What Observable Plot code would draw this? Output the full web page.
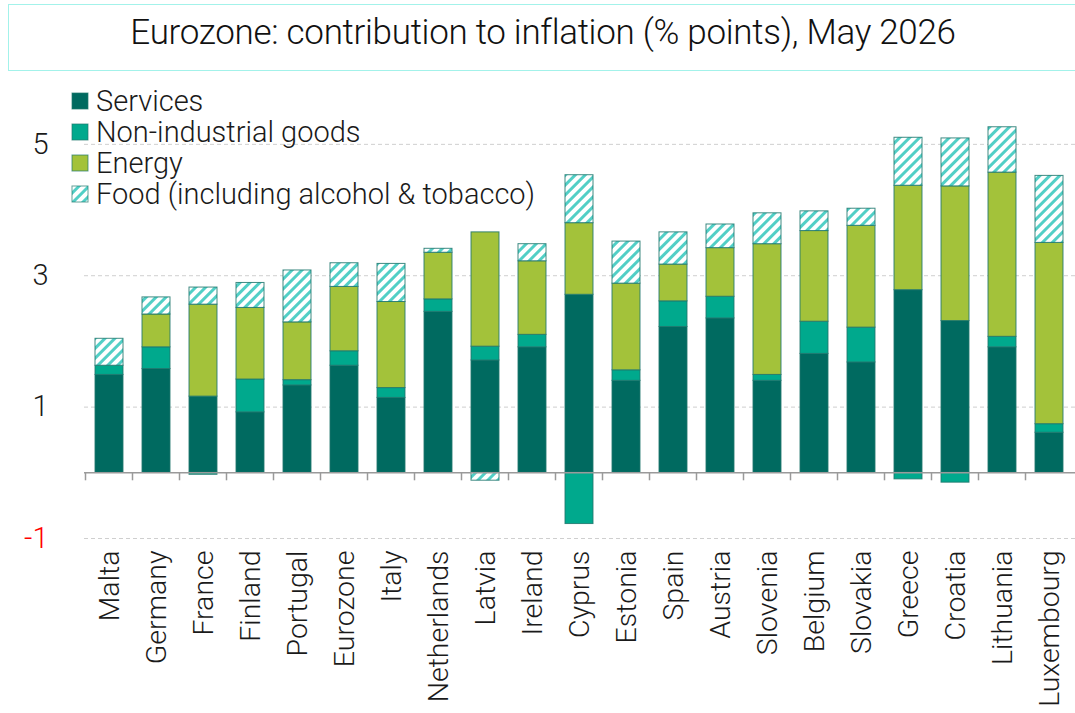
<!DOCTYPE html>
<html><head><meta charset="utf-8">
<script src="https://cdn.jsdelivr.net/npm/d3@7"></script>
<script src="https://cdn.jsdelivr.net/npm/@observablehq/plot@0.6"></script>
<style>
body{margin:0;background:#fff;font-family:Roboto,"Noto Sans",sans-serif;}
#wrap{position:relative;width:1075px;height:713px;overflow:hidden;background:#fff;}
#title{position:absolute;left:8px;top:4px;width:1080px;height:67px;border:1.5px solid #a3f2ea;box-sizing:border-box;font-size:35px;font-weight:300;color:#111;display:flex;align-items:center;justify-content:center;padding-right:10px;padding-bottom:10px;letter-spacing:-0.3px;}
#chart{position:absolute;left:0;top:75px;}
</style></head>
<body>
<div id="wrap">
<div id="title">Eurozone: contribution to inflation (% points), May 2026</div>
<div id="chart"></div>
</div>
<script>
const countries = ["Malta","Germany","France","Finland","Portugal","Eurozone","Italy","Netherlands","Latvia","Ireland","Cyprus","Estonia","Spain","Austria","Slovenia","Belgium","Slovakia","Greece","Croatia","Lithuania","Luxembourg"];
const components = ["Services","Non-industrial goods","Energy","Food (including alcohol & tobacco)"];
const services           = [1.49,1.58,1.16,0.92,1.33,1.63,1.14,2.45,1.71,1.91,2.71,1.40,2.22,2.35,1.40,1.81,1.68,2.78,2.31,1.91,0.61];
const nonIndustrialGoods = [0.14,0.33,-0.03,0.50,0.08,0.22,0.15,0.19,0.21,0.19,-0.78,0.16,0.39,0.33,0.09,0.49,0.53,-0.10,-0.15,0.16,0.13];
const energy             = [0.00,0.50,1.40,1.09,0.88,0.98,1.31,0.71,1.74,1.12,1.09,1.32,0.56,0.74,1.99,1.38,1.55,1.59,2.05,2.50,2.76];
const food               = [0.41,0.26,0.26,0.38,0.79,0.36,0.58,0.06,-0.12,0.26,0.73,0.64,0.49,0.36,0.47,0.30,0.26,0.73,0.73,0.69,1.02];
const yTicks = [-1,1,3,5];
const colors = ["#006a60","#00a98d","#a3c23a","url(#hatch)"];

const series = [services, nonIndustrialGoods, energy, food];
const rows = [];
countries.forEach((c,i) => {
  components.forEach((k,j) => {
    const v = series[j][i];
    if (v !== 0) rows.push({country:c, component:k, value:v});
  });
});

const plot = Plot.plot({
  width: 1075,
  height: 638,
  marginLeft: 84,
  marginRight: 0,
  marginTop: 36,
  marginBottom: 175,
  style: {fontFamily: "Roboto, 'Noto Sans', sans-serif", background: "#fff"},
  x: {domain: countries, paddingInner: 0.4, paddingOuter: 0.2, label: null},
  y: {domain: [-1, 5.5], label: null},
  color: {domain: components, range: colors},
  marks: [
    Plot.ruleY(yTicks, {stroke: "#cfcfcf", strokeDasharray: "4,3", strokeWidth: 1}),
    Plot.barY(rows, {x: "country", y: "value", fill: "component", order: components, stroke: "#1f776d", strokeWidth: 1, strokeOpacity: 0.85}),
    Plot.ruleY([0], {stroke: "#9a9a9a", strokeWidth: 1.5}),
    Plot.axisY(yTicks.filter(d => d >= 0), {tickSize: 0, tickPadding: 36, fontSize: 29, fontWeight: 300, color: "#1a1a1a", tickFormat: d => String(d), label: null}),
    Plot.axisY(yTicks.filter(d => d < 0), {tickSize: 0, tickPadding: 36, fontSize: 29, fontWeight: 300, color: "#ff0000", tickFormat: d => String(d), label: null}),
    Plot.axisX({tickRotate: -90, tickSize: 0, tickPadding: 12, fontSize: 28.5, fontWeight: 300, color: "#1a1a1a", label: null})
  ]
});

const svg = d3.select(plot);
const defs = svg.insert("defs", ":first-child");
const pat = defs.append("pattern").attr("id","hatch").attr("patternUnits","userSpaceOnUse")
  .attr("width",7).attr("height",7).attr("patternTransform","rotate(45)");
pat.append("rect").attr("width",7).attr("height",7).attr("fill","#fff");
pat.append("rect").attr("width",3).attr("height",7).attr("fill","#52cfc6");

// category boundary ticks on the zero line
const xs = plot.scale("x"), ys = plot.scale("y");
const step = xs.step, gap = step - xs.bandwidth;
const y0 = ys.apply(0);
const tg = svg.append("g").attr("stroke","#9a9a9a").attr("stroke-width",1.5);
countries.forEach(c => {
  const bx = xs.apply(c) - gap/2;
  tg.append("line").attr("x1",bx).attr("x2",bx).attr("y1",y0).attr("y2",y0+8);
});

// legend
const lg = svg.append("g").attr("font-size",29).attr("font-weight",300).attr("fill","#1a1a1a").attr("text-anchor","start");
components.forEach((k,i) => {
  const cy = 26 + i*31;
  lg.append("rect").attr("x",72).attr("y",cy-8).attr("width",16).attr("height",16)
    .attr("fill",colors[i]).attr("stroke","#1f776d").attr("stroke-opacity",0.7).attr("stroke-width",1);
  lg.append("text").attr("x",96).attr("y",cy).attr("dy","0.35em").attr("text-anchor","start").text(k);
});

document.getElementById("chart").appendChild(plot);
</script>
</body></html>
